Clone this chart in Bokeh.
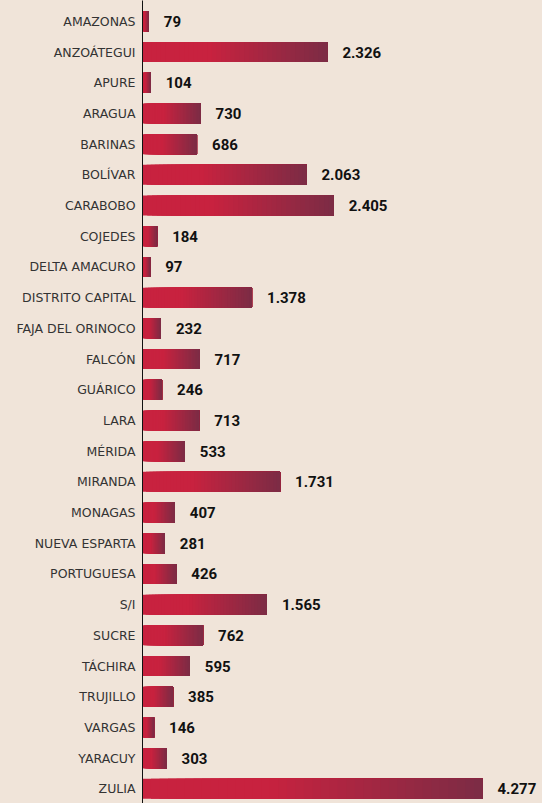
from bokeh.plotting import figure
from bokeh.models import Range1d, ColumnDataSource, FixedTicker
from bokeh.core.properties import value
from bokeh.embed import file_html
from bokeh.resources import INLINE

states = ["AMAZONAS", "ANZOÁTEGUI", "APURE", "ARAGUA", "BARINAS", "BOLÍVAR",
          "CARABOBO", "COJEDES", "DELTA AMACURO", "DISTRITO CAPITAL",
          "FAJA DEL ORINOCO", "FALCÓN", "GUÁRICO", "LARA", "MÉRIDA", "MIRANDA",
          "MONAGAS", "NUEVA ESPARTA", "PORTUGUESA", "S/I", "SUCRE", "TÁCHIRA",
          "TRUJILLO", "VARGAS", "YARACUY", "ZULIA"]
counts = [79, 2326, 104, 730, 686, 2063, 2405, 184, 97, 1378, 232, 717, 246,
          713, 533, 1731, 407, 281, 426, 1565, 762, 595, 385, 146, 303, 4277]

BG = "#f0e4d9"
C1 = (200, 34, 63)
C2 = (122, 44, 69)

W, H = 542, 803
STEP = 30.7
pos = list(range(len(states)))
top = -0.5 - 5.5 / STEP
bottom = top + H / STEP

p = figure(width=W, height=H, output_backend="svg", toolbar_location=None,
           y_range=Range1d(bottom, top),
           x_range=Range1d(0, 5032), min_border_left=142, min_border_right=0,
           min_border_top=0, min_border_bottom=0)
p.background_fill_color = BG
p.border_fill_color = BG
p.outline_line_color = None
p.grid.visible = False
p.xaxis.visible = False

ax = p.yaxis[0]
ax.ticker = FixedTicker(ticks=pos)
ax.major_label_overrides = {i: s for i, s in zip(pos, states)}
ax.axis_line_color = "#111111"
ax.axis_line_width = 1
ax.major_tick_line_color = None
ax.minor_tick_line_color = None
ax.major_label_standoff = 1
ax.major_label_text_font = "DejaVu Sans"
ax.major_label_text_font_size = "12.5px"
ax.major_label_text_color = "#333333"

# gradient bars: solid start colour, then linear blend to dark end colour
N = 40
g0 = 0.35
for k in range(N):
    f = k / N
    t = 0.0 if f < g0 else (f - g0) / (1 - g0)
    col = "#%02x%02x%02x" % tuple(int(round(a + (b - a) * t)) for a, b in zip(C1, C2))
    src = ColumnDataSource(dict(y=pos,
                                left=[v * f for v in counts],
                                right=counts))
    p.hbar(y="y", left="left", right="right", height=0.65, source=src,
           fill_color=col, line_color=None)

labels = [f"{v:,}".replace(",", ".") for v in counts]
lsrc = ColumnDataSource(dict(y=pos, x=counts, t=labels))
p.text(x="x", y="y", text="t", source=lsrc, x_offset=15,
       text_align="left", text_baseline="middle",
       text_font=value("Roboto"), text_font_style="bold",
       text_font_size="15px", text_color="#111111")

html = file_html(p, INLINE)
html = html.replace("</head>", "<style>html,body{background:%s;}</style></head>" % BG, 1)
open("out.html", "w").write(html)
